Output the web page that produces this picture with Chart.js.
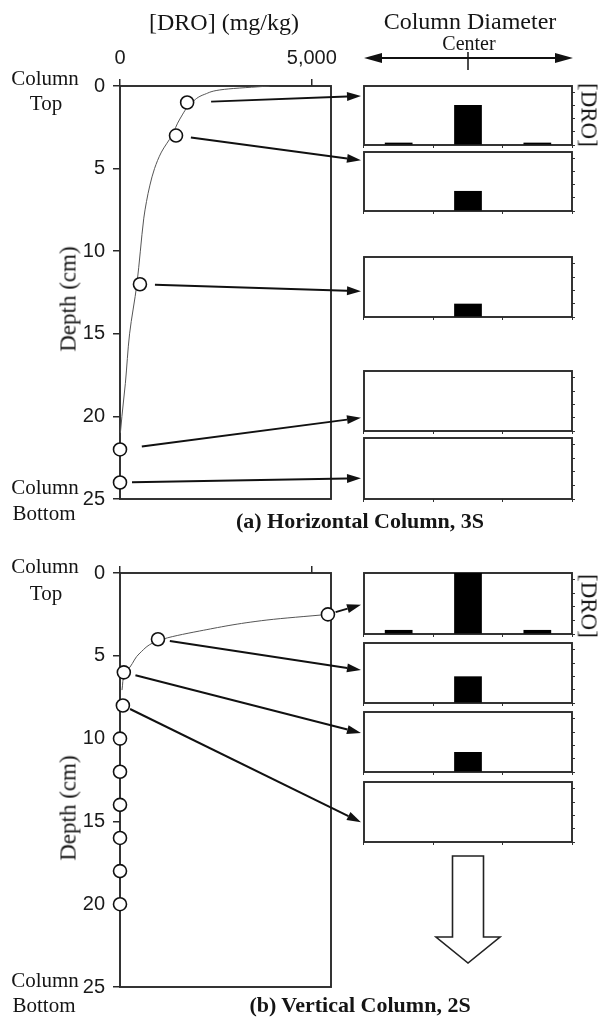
<!DOCTYPE html>
<html>
<head>
<meta charset="utf-8">
<script src="https://cdn.jsdelivr.net/npm/chart.js@4.4.1/dist/chart.umd.min.js"></script>
<style>
  html, body { margin: 0; padding: 0; background: #fff; }
  #fig { position: relative; width: 602px; height: 1024px; overflow: hidden; }
  #fig canvas { position: absolute; }
  .lbl { position: absolute; white-space: nowrap; line-height: 1; color: #151515;
         font-family: "Liberation Serif", "Times New Roman", serif; }
</style>
</head>
<body>
<div id="fig"></div>
<script>
// ---- data ----
const depthTicks = [0, 5, 10, 15, 20, 25];
const droTicks = [0, 5000];
const boxTicks = [0, 1, 2, 3, 4];
const diameterCats = ['Edge', 'Center', 'Edge'];

// (a) horizontal column: sampled depth (cm) vs [DRO] (mg/kg)
const depthA = [1, 3, 12, 22, 24];
const droA = [1750, 1460, 520, 0, 0];
// fitted curve (a)
const curveDepthA = [0, 0.2, 0.5, 1, 2, 3, 4, 5, 6, 7, 8, 10, 12, 15, 18, 20, 21];
const curveDroA = [3900, 2730, 2210, 1875, 1560, 1350, 1080, 900, 780, 690, 620, 530, 440, 250, 140, 50, 10];

// (b) vertical column
const depthB = [2.5, 4, 6, 8, 10, 12, 14, 16, 18, 20];
const droB = [5420, 990, 100, 75, 0, 0, 0, 0, 0, 0];
const curveDepthB = [2.5, 2.84, 3.5, 4.05, 4.83, 5.68, 6.04, 7.07];
const curveDroB = [5420, 3830, 2080, 1040, 520, 260, 130, 52];

// radial [DRO] across column diameter, one row per sample
const radialA = [[0.18, 3.05, 0.18], [0, 1.53, 0], [0, 1.0, 0], [0, 0, 0], [0, 0, 0]];
const radialB = [[0.3, 4.5, 0.3], [0, 2.0, 0], [0, 1.5, 0], [0, 0, 0]];

// ---- layout ----
const boxesA = [[86, 145], [152, 211], [257, 317], [371, 431], [438, 499]];
const boxesB = [[573, 634], [643, 703], [712, 772], [782, 842]];
const arrowEndA = [0.17, 0.14, 0.57, 0.78, 0.66];
const arrowGapA = [24, 15, 15, 22, 12];
const arrowEndB = [0.52, 0.45, 0.35, 0.67];
const arrowGapB = [8, 12, 12, 8];

const fig = document.getElementById('fig');
const INK = '#1a1a1a';

// plot frame, drawn under the data so the open circles sit on top of it
const framePlugin = {
    id: 'frame',
    beforeDatasetsDraw(chart) {
        const a = chart.chartArea;
        const ctx = chart.ctx;
        ctx.save();
        ctx.strokeStyle = '#2a2a2a';
        ctx.lineWidth = 1.9;
        ctx.strokeRect(a.left, a.top, a.right - a.left, a.bottom - a.top);
        ctx.restore();
    }
};

function addCanvas(left, top, w, h) {
    const c = document.createElement('canvas');
    c.width = w; c.height = h;
    c.style.left = left + 'px';
    c.style.top = top + 'px';
    fig.appendChild(c);
    return c;
}

function zeroPad(s) {
    s.paddingLeft = 0; s.paddingRight = 0; s.paddingTop = 0; s.paddingBottom = 0;
}

function depthChart(top, height, plotTop, plotBottom, curveX, curveY, ptX, ptY, showX) {
    const canvas = addCanvas(0, top, 360, height);
    const chart = new Chart(canvas, {
        type: 'scatter',
        data: {
            datasets: [{
                type: 'line',
                indexAxis: 'y',
                data: curveX.map((x, i) => ({ x: x, y: curveY[i] })),
                borderColor: '#555',
                borderWidth: 1,
                pointRadius: 0,
                cubicInterpolationMode: 'monotone',
                fill: false,
                order: 2
            }, {
                data: ptX.map((x, i) => ({ x: x, y: ptY[i] })),
                pointRadius: 6.5,
                pointBackgroundColor: '#fff',
                pointBorderColor: '#111',
                pointBorderWidth: 1.6,
                clip: false,
                order: 1
            }]
        },
        options: {
            responsive: false,
            animation: false,
            devicePixelRatio: 1,
            layout: { padding: { left: 0, top: 0, right: 360 - 331, bottom: height - (plotBottom - top) } },
            plugins: { legend: { display: false }, tooltip: { enabled: false } },
            scales: {
                x: {
                    type: 'linear', position: 'top', min: 0, max: 5500,
                    afterBuildTicks: s => { s.ticks = droTicks.map(v => ({ value: v })); },
                    afterFit: s => { s.height = plotTop - top; zeroPad(s); },
                    ticks: { display: showX, padding: 9, maxRotation: 0, color: INK,
                             font: { family: '"Liberation Sans", Arial, sans-serif', size: 20 } },
                    grid: { drawOnChartArea: false, tickLength: 7, color: '#2a2a2a', lineWidth: 1.5 },
                    border: { display: false }
                },
                y: {
                    type: 'linear', reverse: true, min: 0, max: 25,
                    afterBuildTicks: s => { s.ticks = depthTicks.map(v => ({ value: v })); },
                    afterFit: s => { s.width = 120; zeroPad(s); },
                    ticks: { padding: 8, color: INK,
                             font: { family: '"Liberation Sans", Arial, sans-serif', size: 20 } },
                    grid: { drawOnChartArea: false, tickLength: 7, color: '#2a2a2a', lineWidth: 1.5 },
                    border: { display: false }
                }
            }
        },
        plugins: [framePlugin]
    });
    chart.offX = 0; chart.offY = top;
    return chart;
}

function boxChart(box, values) {
    const top = box[0] - 4;
    const h = box[1] - box[0] + 10;
    const canvas = addCanvas(360, top, 220, h);
    const chart = new Chart(canvas, {
        type: 'bar',
        data: {
            labels: diameterCats,
            datasets: [{
                data: values,
                backgroundColor: '#000',
                barPercentage: 0.4,
                categoryPercentage: 1,
                clip: 0
            }]
        },
        options: {
            responsive: false,
            animation: false,
            devicePixelRatio: 1,
            layout: { padding: { left: 4, top: 4, right: 4, bottom: 2 } },
            plugins: { legend: { display: false }, tooltip: { enabled: false } },
            scales: {
                x: {
                    afterFit: s => { s.height = 4; zeroPad(s); },
                    ticks: { display: false },
                    grid: { drawOnChartArea: false, tickLength: 3, offset: true, color: '#333', lineWidth: 1 },
                    border: { display: false }
                },
                y: {
                    position: 'right', min: 0, max: 4.5,
                    afterBuildTicks: s => { s.ticks = boxTicks.map(v => ({ value: v })); },
                    afterFit: s => { s.width = 4; zeroPad(s); },
                    ticks: { display: false },
                    grid: { drawOnChartArea: false, tickLength: 3, color: '#333', lineWidth: 1 },
                    border: { display: false }
                }
            }
        },
        plugins: [framePlugin]
    });
    chart.offX = 360; chart.offY = top;
    return chart;
}

const chartA = depthChart(0, 520, 86, 499, curveDroA, curveDepthA, droA, depthA, true);
const chartB = depthChart(520, 504, 573, 987, curveDroB, curveDepthB, droB, depthB, false);
const barsA = boxesA.map((b, i) => boxChart(b, radialA[i]));
const barsB = boxesB.map((b, i) => boxChart(b, radialB[i]));

// ---- overlay: arrows ----
const over = addCanvas(0, 0, 602, 1024);
over.style.pointerEvents = 'none';
const ctx = over.getContext('2d');
ctx.strokeStyle = '#111';
ctx.fillStyle = '#111';

function arrow(x1, y1, x2, y2, len, half) {
    const ang = Math.atan2(y2 - y1, x2 - x1);
    const bx = x2 - len * Math.cos(ang), by = y2 - len * Math.sin(ang);
    ctx.beginPath();
    ctx.lineWidth = 2;
    ctx.moveTo(x1, y1);
    ctx.lineTo(bx, by);
    ctx.stroke();
    ctx.beginPath();
    ctx.moveTo(x2, y2);
    ctx.lineTo(bx + half * Math.sin(ang), by - half * Math.cos(ang));
    ctx.lineTo(bx - half * Math.sin(ang), by + half * Math.cos(ang));
    ctx.closePath();
    ctx.fill();
}

function linkArrows(depthChartObj, xs, ys, bars, ends, gaps) {
    bars.forEach((bc, i) => {
        const px = depthChartObj.scales.x.getPixelForValue(xs[i]) + depthChartObj.offX;
        const py = depthChartObj.scales.y.getPixelForValue(ys[i]) + depthChartObj.offY;
        const a = bc.chartArea;
        const ex = a.left + bc.offX - 3;
        const ey = a.top + bc.offY + ends[i] * (a.bottom - a.top);
        const ang = Math.atan2(ey - py, ex - px);
        arrow(px + gaps[i] * Math.cos(ang), py + gaps[i] * Math.sin(ang), ex, ey, 14, 4.5);
    });
}
linkArrows(chartA, droA, depthA, barsA, arrowEndA, arrowGapA);
linkArrows(chartB, droB, depthB, barsB, arrowEndB, arrowGapB);

// column diameter double arrow
const first = barsA[0];
const dl = first.chartArea.left + first.offX;
const dr = first.chartArea.right + first.offX + 1;
const dc = first.scales.x.getPixelForValue(1) + first.offX;
arrow(dc, 58, dl, 58, 18, 5);
arrow(dc, 58, dr, 58, 18, 5);
ctx.lineWidth = 1.5;
ctx.beginPath();
ctx.moveTo(dc, 52); ctx.lineTo(dc, 70); ctx.stroke();

// hollow downward arrow under (b)
const last = barsB[barsB.length - 1];
const hc = last.scales.x.getPixelForValue(1) + last.offX;
const hTop = last.chartArea.bottom + last.offY + 14;
ctx.beginPath();
ctx.moveTo(hc - 15.5, hTop);
ctx.lineTo(hc + 15.5, hTop);
ctx.lineTo(hc + 15.5, hTop + 81);
ctx.lineTo(hc + 32, hTop + 81);
ctx.lineTo(hc, hTop + 107);
ctx.lineTo(hc - 32, hTop + 81);
ctx.lineTo(hc - 15.5, hTop + 81);
ctx.closePath();
ctx.fillStyle = '#fff';
ctx.fill();
ctx.lineWidth = 1.6;
ctx.strokeStyle = '#222';
ctx.stroke();

// ---- text ----
function addText(text, x, y, size, opts) {
    opts = opts || {};
    const d = document.createElement('div');
    d.className = 'lbl';
    d.textContent = text;
    d.style.fontSize = size + 'px';
    if (opts.bold) d.style.fontWeight = 'bold';
    d.style.left = x + 'px';
    d.style.top = y + 'px';
    d.style.transform = 'translate(-50%,-50%)' + (opts.rot ? ' rotate(' + opts.rot + 'deg)' : '');
    fig.appendChild(d);
}

addText('[DRO] (mg/kg)', 224, 22, 24);
addText('Column Diameter', 470, 21, 24);
addText('Center', 469, 43, 20);

addText('Column', 45, 78, 21);
addText('Top', 46, 103, 21);
addText('Column', 45, 487, 21);
addText('Bottom', 44, 513, 21);
addText('Depth (cm)', 68, 299, 23, { rot: -90 });
addText('[DRO]', 589, 115, 23, { rot: 90 });
addText('(a) Horizontal Column, 3S', 360, 521, 22, { bold: true });

addText('Column', 45, 566, 21);
addText('Top', 46, 593, 21);
addText('Column', 45, 980, 21);
addText('Bottom', 44, 1005, 21);
addText('Depth (cm)', 68, 808, 23, { rot: -90 });
addText('[DRO]', 589, 606, 23, { rot: 90 });
addText('(b) Vertical Column, 2S', 360, 1005, 22, { bold: true });
</script>
</body>
</html>
